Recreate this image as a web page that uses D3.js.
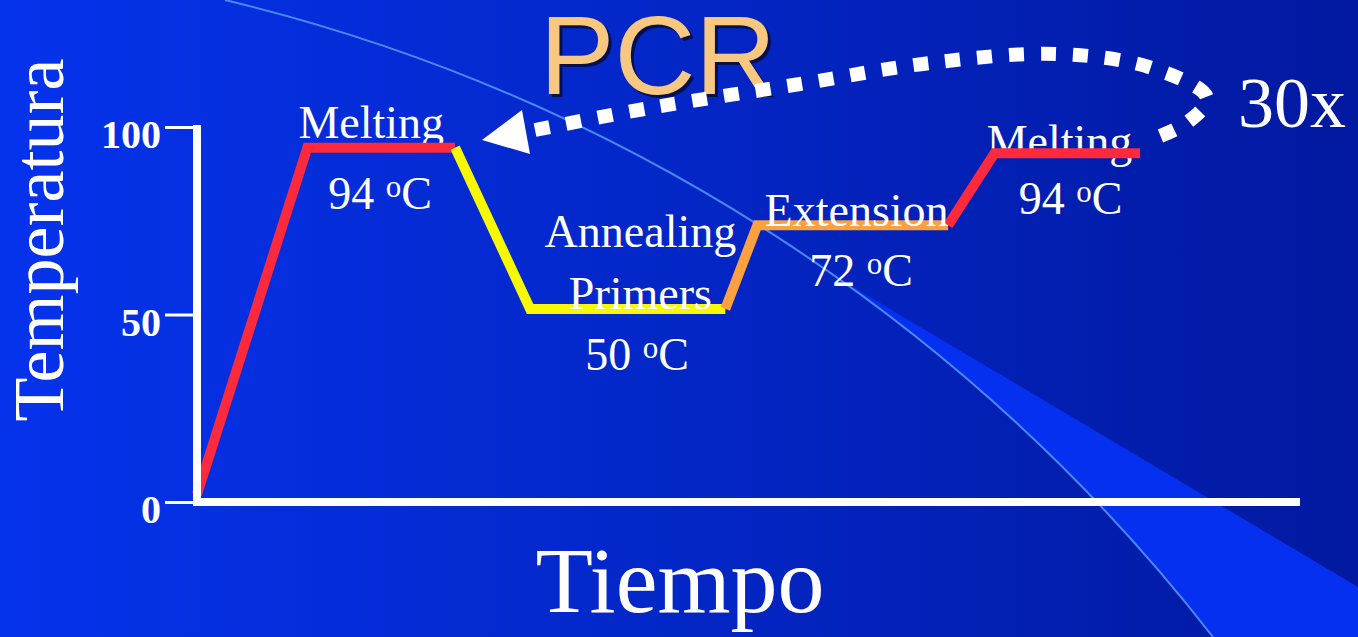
<!DOCTYPE html>
<html>
<head>
<meta charset="utf-8">
<script src="https://cdn.jsdelivr.net/npm/d3@7"></script>
<style>
  html, body { margin: 0; padding: 0; background: #0326c4; overflow: hidden; }
  svg { display: block; }
</style>
</head>
<body>
<svg id="chart" width="1358" height="637"></svg>
<script>
// ---- data ----
const timePts = [0, 10, 23.4, 30.2, 47.9, 50.8, 68.1, 72.3, 85.5];
const tempPts = [2, 94.5, 94.5, 51.5, 51.5, 73.8, 73.8, 93, 93];
const segStart = [0, 2, 4, 6];
const segEnd   = [2, 4, 6, 8];
const segColors = ["#fc2a3c", "#f8f800", "#fca040", "#fc2a3c"];
const yTicks = [0, 50, 100];
const yTickLabels = ["0", "50", "100"];
const stageNames = [["Melting"], ["Annealing", "Primers"], ["Extension"], ["Melting"]];
const stageDegrees = ["94", "50", "72", "94"];
const stageTemps = [94.5, 51.5, 73.8, 93];
const stageNameT = [15.8, 40.2, 59.8, 78.2];
const stageDegT = [16.6, 39.9, 60.2, 79.2];
const stageUnder = [true, false, false, true];
const titleText = "PCR";
const cycleText = "30x";
const yTitle = "Temperatura";
const xTitle = "Tiempo";

// ---- decoration (background, pixel space) ----
const W = 1358, H = 637;
const arcStart = [225, 0], arcEnd = [1213, 637], arcR = 1777;
const loopPts = [[535,130],[650,108],[800,84],[930,63],[1058,54],[1152,68],[1207,98],[1188,122],[1145,142]];

const svg = d3.select("#chart");
const defs = svg.append("defs");
const grad = defs.append("linearGradient").attr("id","bg").attr("x1","0").attr("x2","1").attr("y1","0").attr("y2","0");
grad.append("stop").attr("offset","0").attr("stop-color","#0533ec");
grad.append("stop").attr("offset","1").attr("stop-color","#0219a0");
svg.append("rect").attr("width",W).attr("height",H).attr("fill","url(#bg)");

const arcPath = `M${arcStart[0]},${arcStart[1]}A${arcR},${arcR} 0 0,1 ${arcEnd[0]},${arcEnd[1]}`;
const rightRegion = arcPath + `L${W},${H}L${W},0Z`;
defs.append("clipPath").attr("id","rightOfArc").append("path").attr("d", rightRegion);
svg.append("path")
  .attr("d", `M700,196L${W},587L${W},${H}L700,${H}Z`)
  .attr("fill","#0530f0")
  .attr("clip-path","url(#rightOfArc)");
svg.append("path").attr("d", arcPath).attr("fill","none")
  .attr("stroke","#4a88ff").attr("stroke-width",2);

// ---- scales ----
const x = d3.scaleLinear().domain([0, 100]).range([197, 1300]);
const y = d3.scaleLinear().domain([0, 100]).range([502, 127]);

const serif = "'Liberation Serif', 'Times New Roman', serif";
const nameOffset = [-10, -62, 1, 4];

// labels
function drawLabel(g, k) {
  const lines = stageNames[k];
  const cy = y(stageTemps[k]);
  const nameY0 = cy + nameOffset[k];
  lines.forEach((s, i) => {
    g.append("text").attr("x", x(stageNameT[k])).attr("y", nameY0 + i*62)
      .attr("text-anchor","middle").attr("fill","#fff")
      .attr("font-family", serif).attr("font-size", 46).text(s);
  });
  const degY = cy + 61;
  const t = g.append("text").attr("x", x(stageDegT[k])).attr("y", degY)
    .attr("text-anchor","middle").attr("fill","#fff")
    .attr("font-family", serif).attr("font-size", 46);
  t.append("tspan").text(stageDegrees[k] + " ");
  t.append("tspan").attr("font-size", 31).attr("dy", -12).text("o");
  t.append("tspan").attr("dy", 12).text("C");
}
const underG = svg.append("g");
d3.range(4).filter(k => stageUnder[k]).forEach(k => drawLabel(underG, k));

// ---- temperature profile ----
const line = d3.line().x(i => x(timePts[i])).y(i => y(tempPts[i]));
segStart.forEach((s, k) => {
  const idx = d3.range(s, segEnd[k] + 1);
  svg.append("path").attr("d", line(idx)).attr("fill","none")
    .attr("stroke", segColors[k]).attr("stroke-width", 10)
    .attr("stroke-linejoin","miter").attr("stroke-linecap","butt");
});

// ---- axes ----
const yAxis = d3.axisLeft(y).tickValues(yTicks).tickSize(32).tickFormat("");
const ya = svg.append("g").attr("transform", `translate(${x(0)},0)`).call(yAxis);
ya.select(".domain").remove();
ya.selectAll(".tick line").attr("stroke","#fff").attr("stroke-width",3);
svg.append("line").attr("x1", x(0)).attr("x2", x(0)).attr("y1", y(100)-2).attr("y2", y(0)+4)
  .attr("stroke","#fff").attr("stroke-width",8);
svg.append("line").attr("x1", x(0)-4).attr("x2", x(100)).attr("y1", y(0)).attr("y2", y(0))
  .attr("stroke","#fff").attr("stroke-width",8);
yTicks.forEach((v, i) => {
  svg.append("text").attr("x", 161).attr("y", y(v) + 21)
    .attr("text-anchor","end").attr("fill","#fff").attr("font-weight","bold")
    .attr("font-family", serif).attr("font-size", 40).text(yTickLabels[i]);
});

// other labels on top of lines
const overG = svg.append("g");
d3.range(4).filter(k => !stageUnder[k]).forEach(k => drawLabel(overG, k));

// axis titles
svg.append("text").attr("transform","translate(63,240) rotate(-90)")
  .attr("text-anchor","middle").attr("fill","#fff")
  .attr("font-family", serif).attr("font-size", 72).text(yTitle);
svg.append("text").attr("x", 680).attr("y", 612)
  .attr("text-anchor","middle").attr("fill","#fff")
  .attr("font-family", serif).attr("font-size", 94).text(xTitle);

// title with shadow
svg.append("text").attr("x", 661).attr("y", 97).attr("text-anchor","middle")
  .attr("fill","#0a0a30").attr("opacity",0.8)
  .attr("font-family","'Liberation Sans', Arial, sans-serif").attr("font-size", 112).text(titleText);
svg.append("text").attr("x", 658).attr("y", 94).attr("text-anchor","middle")
  .attr("fill","#f8c880")
  .attr("font-family","'Liberation Sans', Arial, sans-serif").attr("font-size", 112).text(titleText);

// cycle loop arrow
svg.append("path").attr("d", d3.line().curve(d3.curveCatmullRom)(loopPts))
  .attr("fill","none").attr("stroke","#fff").attr("stroke-width",14)
  .attr("stroke-dasharray","15 17");
svg.append("path").attr("d","M482,140L522,110L530,154Z").attr("fill","#fff");
svg.append("text").attr("x", 1238).attr("y", 127).attr("fill","#fff")
  .attr("font-family", serif).attr("font-size", 72).text(cycleText);
</script>
</body>
</html>
